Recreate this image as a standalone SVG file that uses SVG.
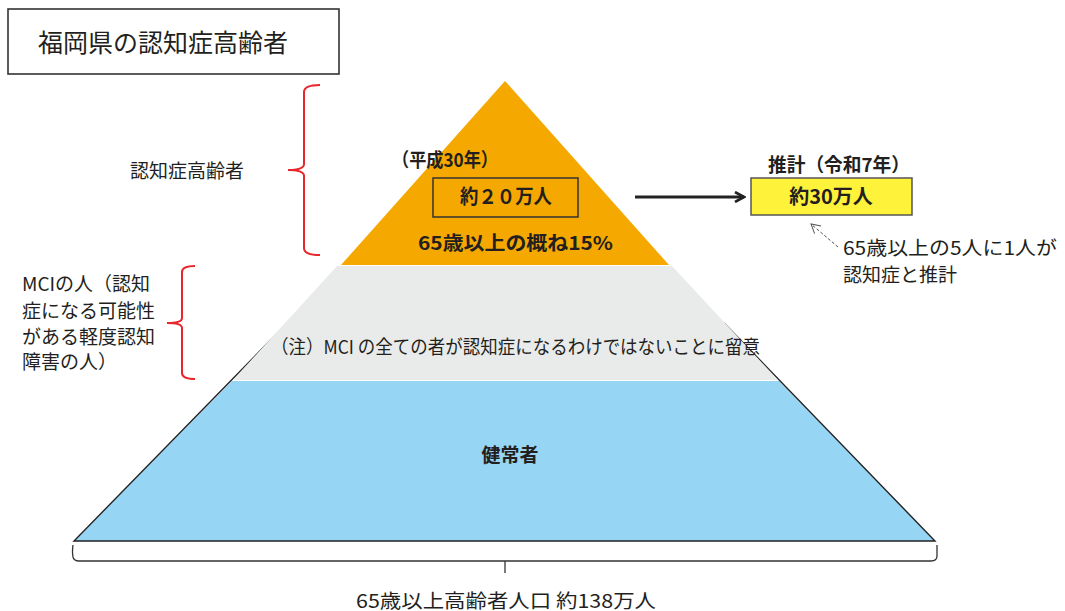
<svg xmlns="http://www.w3.org/2000/svg" width="1065" height="611" viewBox="0 0 1065 611">
<style>
text{font-family:"Noto Sans CJK JP","Noto Sans",sans-serif;fill:#231f20;}
.r{font-size:19px;}
.b{font-size:19px;font-weight:bold;}
.brace{fill:none;stroke:#e8262b;stroke-width:2;}
.blk{fill:none;stroke:#333;stroke-width:1.3;}
</style>
<defs>
<marker id="ah" viewBox="0 0 12 12" refX="10" refY="6" markerWidth="12" markerHeight="12" markerUnits="userSpaceOnUse" orient="auto">
<path d="M1,1 L10,6 L1,11" fill="none" stroke="#222" stroke-width="2.6"/>
</marker>
<marker id="ahd" viewBox="0 0 12 12" refX="10" refY="6" markerWidth="12" markerHeight="12" markerUnits="userSpaceOnUse" orient="auto">
<path d="M1,1 L10,6 L1,11" fill="none" stroke="#555" stroke-width="1"/>
</marker>
</defs>
<rect width="1065" height="611" fill="#fff"/>

<g id="title">
<rect x="8" y="9" width="331" height="65" fill="#fff" stroke="#333" stroke-width="1.6"/>
<text x="38" y="52" style="font-size:25px">福岡県の認知症高齢者</text>
</g>

<g id="pyramid-blue">
<polygon points="232,381 779,381 935,541 74,541" fill="#97d5f5"/>
<path d="M305,305 L74,541 L935,541 L724,323" fill="none" stroke="#222" stroke-width="1.4"/>
<text x="510" y="462" class="b" text-anchor="middle">健常者</text>
</g>

<g id="pyramid-gray">
<polygon points="337,266 672,266 778,380 233,380" fill="#e9ebea"/>
<text x="271" y="354" class="r" textLength="489" lengthAdjust="spacingAndGlyphs">（注）MCI の全ての者が認知症になるわけではないことに留意</text>
</g>

<g id="pyramid-orange">
<polygon points="505,81 669,265 341,265" fill="#f5a800"/>
<text x="392" y="167" class="b" textLength="106" lengthAdjust="spacingAndGlyphs">（平成30年）</text>
<rect x="433" y="178" width="145" height="39" fill="none" stroke="#333" stroke-width="1.5"/>
<text x="460" y="204" class="b" style="font-size:20px" textLength="92" lengthAdjust="spacingAndGlyphs">約２０万人</text>
<text x="418" y="250" class="b" textLength="195" lengthAdjust="spacingAndGlyphs">65歳以上の概ね15%</text>
</g>

<g id="label-ninchi">
<text x="130" y="178" class="r">認知症高齢者</text>
<path class="brace" d="M320,85 Q304,85 304,92 L304,164 Q304,170 288,170 Q304,170 304,176 L304,248 Q304,255 320,255"/>
</g>

<g id="label-mci">
<text x="22" y="291" class="r">MCIの人（認知</text>
<text x="22" y="318" class="r">症になる可能性</text>
<text x="22" y="344" class="r">がある軽度認知</text>
<text x="22" y="369" class="r">障害の人）</text>
<path class="brace" d="M195,266 Q182,266 182,272 L182,318 Q182,323 167,323 Q182,323 182,328 L182,373 Q182,379 195,379"/>
</g>

<g id="estimate">
<text x="768" y="172" class="b" textLength="142" lengthAdjust="spacingAndGlyphs">推計（令和7年）</text>
<rect x="751" y="178" width="161" height="37" fill="#fff23b" stroke="#555" stroke-width="1.5"/>
<text x="831" y="204" class="b" text-anchor="middle" style="font-size:20px">約30万人</text>
</g>

<g id="note-estimate">
<text x="843" y="255" class="r" textLength="214" lengthAdjust="spacingAndGlyphs">65歳以上の5人に1人が</text>
<text x="843" y="282" class="r">認知症と推計</text>
</g>

<g id="total">
<path class="blk" d="M73,545 Q72,552 73,557 Q74,561 79,561 L931,561 Q937,561 937,556 L937,545"/>
<path class="blk" d="M505,561 L505,573"/>
<text x="356" y="608" class="r" textLength="300" lengthAdjust="spacingAndGlyphs">65歳以上高齢者人口 約138万人</text>
</g>

<g id="connectors">
<line x1="635" y1="197" x2="744" y2="197" stroke="#222" stroke-width="3" marker-end="url(#ah)"/>
<line x1="838" y1="247" x2="811" y2="224" stroke="#555" stroke-width="1" stroke-dasharray="3,2" marker-end="url(#ahd)"/>
</g>
</svg>
